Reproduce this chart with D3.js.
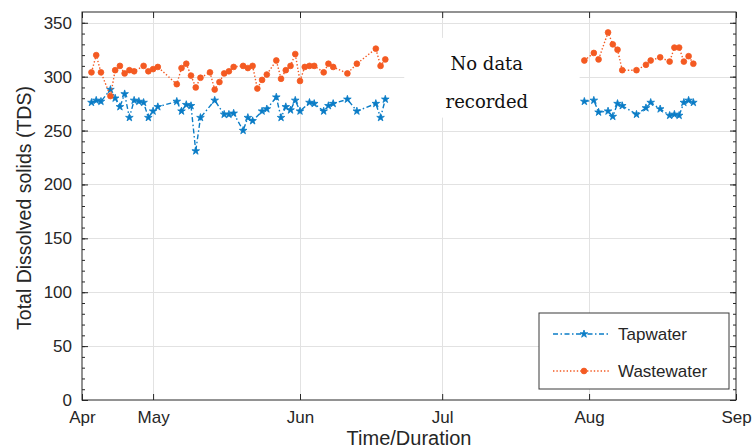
<!DOCTYPE html>
<html>
<head>
<meta charset="utf-8">
<script src="https://cdn.jsdelivr.net/npm/d3@7"></script>
<style>
  body { margin: 0; background: #fff; }
  text { font-family: "Liberation Sans", Arial, sans-serif; fill: #262626; }
</style>
</head>
<body>
<script>
// ---- data ----
let tapDates = ["04-18","04-19","04-20","04-22","04-23","04-24","04-25","04-26","04-27","04-28",
  "04-29","04-30","05-01","05-02","05-06","05-07","05-08","05-09","05-10","05-11",
  "05-14","05-16","05-17","05-18","05-20","05-21","05-22","05-24","05-25","05-27",
  "05-28","05-29","05-30","05-31","06-01","06-03","06-04","06-06","06-07","06-08",
  "06-11","06-13","06-17","06-18","06-19",
  "07-31","08-02","08-03","08-05","08-06","08-07","08-08","08-11","08-13","08-14",
  "08-16","08-18","08-19","08-20","08-21","08-22","08-23"];
let tapValues = [276,278,277,288,280,272,284,262,278,277,
  276,262,268,272,277,268,274,273,231,262,
  278,265,265,266,250,262,259,268,270,281,
  262,272,269,278,268,276,275,268,273,275,
  279,268,275,262,279,
  277,278,267,268,263,275,273,265,271,276,
  270,264,265,264,276,278,276];

let wasteDates = ["04-18","04-19","04-20","04-22","04-23","04-24","04-25","04-26","04-27","04-29",
  "04-30","05-01","05-02","05-06","05-07","05-08","05-09","05-10","05-11","05-13",
  "05-14","05-15","05-16","05-17","05-18","05-20","05-21","05-22","05-23","05-24",
  "05-25","05-27","05-28","05-29","05-30","05-31","06-01","06-02","06-03","06-04",
  "06-06","06-07","06-08","06-11","06-13","06-17","06-18","06-19",
  "07-31","08-02","08-03","08-05","08-06","08-07","08-08","08-11","08-13","08-14",
  "08-16","08-18","08-19","08-20","08-21","08-22","08-23"];
let wasteValues = [304,320,304,282,306,310,303,306,305,310,
  305,307,309,293,308,312,301,290,299,304,
  288,295,303,305,309,310,308,310,289,297,
  302,315,298,306,310,321,296,309,310,310,
  304,312,309,303,312,326,310,316,
  315,322,316,341,330,325,306,306,311,315,
  318,314,327,327,314,319,312];

let xTickDates = ["04-16","05-01","06-01","07-01","08-01","09-01"];
let xTickLabels = ["Apr","May","Jun","Jul","Aug","Sep"];
let yTicks = [0,50,100,150,200,250,300,350];

let seriesNames = ["Tapwater","Wastewater"];
let noDataText = ["No data","recorded"];

// ---- setup ----
let width = 756, height = 448;
let margin = {left: 82, right: 20, top: 12, bottom: 48};
let blue = "#0a7cc6", orange = "#f45a22";
let axisColor = "#262626";

let parseDate = d3.timeParse("%Y-%m-%d");
let toDate = s => parseDate("2019-" + s);

let svg = d3.select("body").append("svg")
  .attr("width", width)
  .attr("height", height);

let x = d3.scaleTime()
  .domain([toDate("04-16"), toDate("09-01")])
  .range([margin.left, width - margin.right]);

let y = d3.scaleLinear()
  .domain([0, 360])
  .range([height - margin.bottom, margin.top]);

let x0 = x.range()[0], x1 = x.range()[1];
let y0 = y.range()[0], y1 = y.range()[1];

// grid
let grid = svg.append("g").attr("stroke", "#e2e2e2").attr("stroke-width", 1);
yTicks.filter(v => v > 0).forEach(v => {
  grid.append("line").attr("x1", x0).attr("x2", x1)
    .attr("y1", Math.round(y(v)) + 0.5).attr("y2", Math.round(y(v)) + 0.5);
});
xTickDates.slice(1, -1).forEach(s => {
  let px = Math.round(x(toDate(s))) + 0.5;
  grid.append("line").attr("x1", px).attr("x2", px).attr("y1", y1).attr("y2", y0);
});

// white box behind the "No data recorded" note
svg.append("rect")
  .attr("x", x(toDate("06-23"))).attr("y", y(336))
  .attr("width", x(toDate("07-30")) - x(toDate("06-23")))
  .attr("height", y(262) - y(336))
  .attr("fill", "#fff");

svg.append("g").selectAll("text")
  .data(noDataText)
  .join("text")
  .attr("x", x(toDate("07-10")) + 2)
  .attr("y", (d, i) => y(306) + i * 38)
  .attr("text-anchor", "middle")
  .style("font-family", "'DejaVu Serif', 'Liberation Serif', serif")
  .style("font-size", "18px")
  .style("fill", "#111")
  .text(d => d);

// axes
let yAxis = d3.axisLeft(y).tickValues(yTicks).tickSize(-6).tickPadding(10);
let yAxisMinor = d3.axisLeft(y).tickValues(d3.range(0, 360, 10)).tickSize(-3).tickFormat("");
let yAxisRight = d3.axisRight(y).tickValues(yTicks).tickSize(-6).tickFormat("");
let yAxisRightMinor = d3.axisRight(y).tickValues(d3.range(0, 360, 10)).tickSize(-3).tickFormat("");
let xAxis = d3.axisBottom(x).tickValues(xTickDates.map(toDate)).tickSize(-6).tickPadding(11)
  .tickFormat((d, i) => xTickLabels[i]);
let xAxisTop = d3.axisTop(x).tickValues(xTickDates.map(toDate)).tickSize(-6).tickFormat("");

function styleAxis(g) {
  g.select(".domain").remove();
  g.selectAll("line").attr("stroke", axisColor);
  g.selectAll("text").style("font-size", "17px").attr("fill", axisColor);
}

svg.append("g").attr("transform", `translate(${x0},0)`).call(yAxis).call(styleAxis);
svg.append("g").attr("transform", `translate(${x0},0)`).call(yAxisMinor).call(styleAxis);
svg.append("g").attr("transform", `translate(${x1},0)`).call(yAxisRight).call(styleAxis);
svg.append("g").attr("transform", `translate(${x1},0)`).call(yAxisRightMinor).call(styleAxis);
svg.append("g").attr("transform", `translate(0,${y0})`).call(xAxis).call(styleAxis);
svg.append("g").attr("transform", `translate(0,${y1})`).call(xAxisTop).call(styleAxis);

svg.append("rect")
  .attr("x", x0).attr("y", y1)
  .attr("width", x1 - x0).attr("height", y0 - y1)
  .attr("fill", "none").attr("stroke", axisColor).attr("stroke-width", 1);

// axis titles
svg.append("text")
  .attr("x", (x0 + x1) / 2).attr("y", height - 3)
  .attr("text-anchor", "middle")
  .style("font-size", "20px")
  .text("Time/Duration");

svg.append("text")
  .attr("transform", `translate(31,${(y0 + y1) / 2 + 2}) rotate(-90)`)
  .attr("text-anchor", "middle")
  .style("font-size", "19.5px")
  .text("Total Dissolved solids (TDS)");

// series
function toPoints(dates, values) {
  return dates.map((s, i) => ({date: toDate(s), value: values[i]}));
}

// split where a long gap exists so no line crosses it
function segments(points) {
  let segs = [[]];
  points.forEach((p, i) => {
    if (i > 0 && (p.date - points[i - 1].date) > 10 * 864e5) segs.push([]);
    segs[segs.length - 1].push(p);
  });
  return segs;
}

let line = d3.line().x(d => x(d.date)).y(d => y(d.value));

let tapPts = toPoints(tapDates, tapValues);
let wastePts = toPoints(wasteDates, wasteValues);

let star = d3.symbol().type(d3.symbolStar).size(18);
let dot = d3.symbol().type(d3.symbolCircle).size(26);

function drawSeries(pts, color, dash, sym) {
  let g = svg.append("g");
  g.selectAll("path.line")
    .data(segments(pts))
    .join("path")
    .attr("class", "line")
    .attr("d", line)
    .attr("fill", "none")
    .attr("stroke", color)
    .attr("stroke-width", 1.4)
    .attr("stroke-dasharray", dash);
  g.selectAll("path.mark")
    .data(pts)
    .join("path")
    .attr("class", "mark")
    .attr("transform", d => `translate(${x(d.date)},${y(d.value)})`)
    .attr("d", sym)
    .attr("fill", color)
    .attr("stroke", color)
    .attr("stroke-width", 0.8);
}

drawSeries(tapPts, blue, "5,2.5,1.5,2.5", star);
drawSeries(wastePts, orange, "1.4,2", dot);

// legend
let legend = svg.append("g");
let lx = 539, ly = 313, lw = 190, lh = 76;
legend.append("rect")
  .attr("x", lx).attr("y", ly).attr("width", lw).attr("height", lh)
  .attr("fill", "#fff").attr("stroke", "#3a3a3a").attr("stroke-width", 1);

let legendItems = [
  {name: seriesNames[0], color: blue, dash: "5,2.5,1.5,2.5", sym: star},
  {name: seriesNames[1], color: orange, dash: "1.4,2", sym: dot}
];
legendItems.forEach((it, i) => {
  let cy = ly + 21 + i * 37;
  legend.append("line")
    .attr("x1", lx + 14).attr("x2", lx + 71).attr("y1", cy).attr("y2", cy)
    .attr("stroke", it.color).attr("stroke-width", 1.4).attr("stroke-dasharray", it.dash);
  legend.append("path")
    .attr("transform", `translate(${lx + 45},${cy})`)
    .attr("d", it.sym)
    .attr("fill", it.color).attr("stroke", it.color).attr("stroke-width", 0.8);
  legend.append("text")
    .attr("x", lx + 79).attr("y", cy + 6)
    .style("font-size", "17px")
    .text(it.name);
});
</script>
</body>
</html>
